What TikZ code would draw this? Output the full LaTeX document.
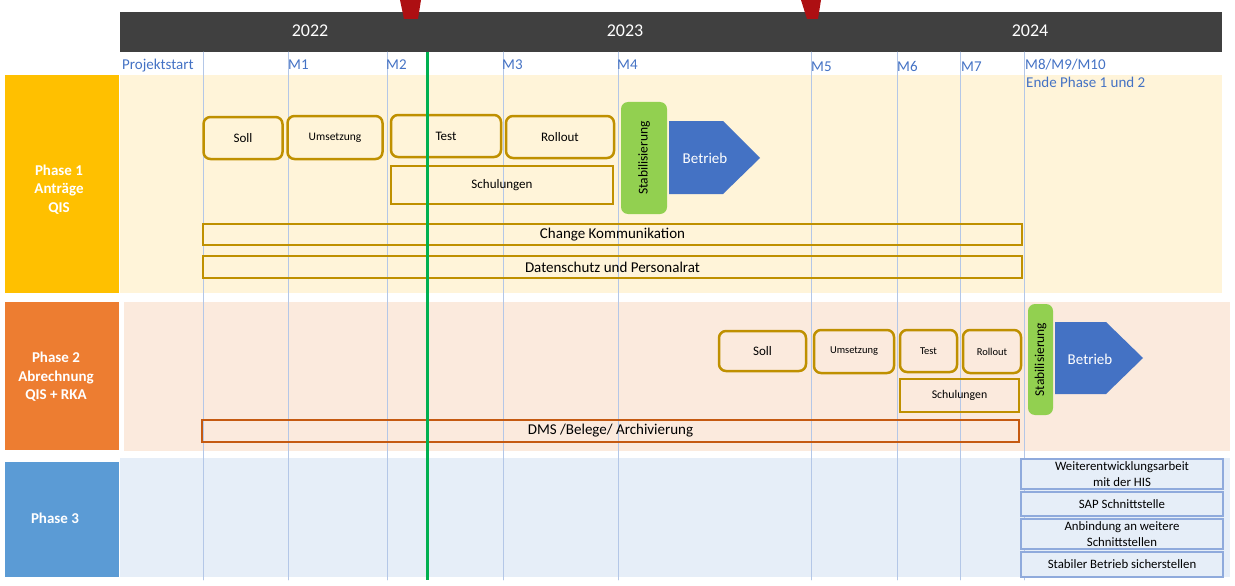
\documentclass[tikz,border=0pt]{standalone}
\usepackage{fontspec}
\setmainfont{Carlito}
\usetikzlibrary{arrows}
\definecolor{uququq}{rgb}{0.25,0.25,0.25}
\definecolor{adqeqe}{rgb}{0.68,0.06,0.07}
\definecolor{ffcqqq}{rgb}{1.,0.753,0.}
\definecolor{edxdtr}{rgb}{0.929,0.49,0.192}
\definecolor{vbzbdv}{rgb}{0.357,0.608,0.835}
\definecolor{uuxscu}{rgb}{0.267,0.447,0.769}
\definecolor{zsdqvq}{rgb}{0.573,0.816,0.314}
\definecolor{bfzqqq}{rgb}{0.749,0.565,0.}
\definecolor{cvvarr}{rgb}{0.773,0.353,0.067}
\definecolor{qqbqvq}{rgb}{0.,0.69,0.314}
\definecolor{fffudz}{rgb}{1.,0.957,0.851}
\definecolor{fbeadd}{rgb}{0.984,0.918,0.867}
\definecolor{eweefy}{rgb}{0.902,0.933,0.973}
\definecolor{yfaadc}{rgb}{0.561,0.667,0.863}
\definecolor{bucwew}{rgb}{0.706,0.78,0.906}
\begin{document}
\begin{tikzpicture}[line cap=round,line join=round,x=1pt,y=-1pt,
    gridline/.style={color=bucwew,line width=0.9pt},
    mslabel/.style={anchor=base west,inner sep=0pt,color=uuxscu,font=\fontsize{15}{18}\selectfont},
    yearlabel/.style={color=white,font=\fontsize{18}{21}\selectfont},
    phasebox/.style={minimum width=114pt,inner sep=0pt},
    phasetext/.style={color=white,align=center,font=\bfseries\fontsize{15}{18.5}\selectfont},
    taskbox/.style={draw=bfzqqq,line width=2.5pt,rounded corners=7pt,inner sep=0pt},
    barbox/.style={draw=bfzqqq,line width=2.5pt,line join=miter,inner sep=0pt},
    stabbox/.style={fill=zsdqvq,rounded corners=7pt,inner sep=0pt,rotate=90,font=\fontsize{13.5}{16}\selectfont},
    betriebtext/.style={color=white,font=\fontsize{15}{18}\selectfont},
    hisbox/.style={draw=yfaadc,fill=eweefy,line width=2.5pt,line join=miter,minimum width=202pt,inner sep=0pt,align=center,font=\fontsize{12.8}{15.5}\selectfont}]
    \useasboundingbox (0,0) rectangle (1235,586);
    \fill[uququq] (120,12) rectangle (1222,52);
    \fill[adqeqe] (400,0) -- (421,0) -- (418,19) -- (404,19) -- cycle;
    \fill[adqeqe] (801,0) -- (821,0) -- (818,19) -- (807,19) -- cycle;
    \node[yearlabel] (y2022) at (310,31) {2022};
    \node[yearlabel] (y2023) at (625,31) {2023};
    \node[yearlabel] (y2024) at (1030,31) {2024};
    \fill[fffudz] (120,75) rectangle (1222,293);
    \fill[fbeadd] (124,302) rectangle (1230,451);
    \fill[eweefy] (120,458) rectangle (1230,577);
    \node[phasebox,fill=ffcqqq,minimum height=218pt] (ph1) at (62,184) {};
    \node[phasebox,fill=edxdtr,minimum height=148pt] (ph2) at (62,376) {};
    \node[phasebox,fill=vbzbdv,minimum height=115pt] (ph3) at (62,519.5) {};
    \node[phasetext] (ph1t) at (59,189.5) {Phase 1\\Anträge\\QIS};
    \node[phasetext] (ph2t) at (56,377) {Phase 2\\Abrechnung\\QIS + RKA};
    \node[phasetext] (ph3t) at (55,518) {Phase 3};
    \foreach \i/\xx in {0/203,1/288,2/387,3/503,4/618,5/811,6/897,7/960,8/1024} {
      \coordinate (g\i) at (\xx,52);
      \draw[gridline] (g\i) -- (\xx,580);
    }
    \node[mslabel] (ms0) at (122,70) {Projektstart};
    \node[mslabel] (ms1) at (288,70) {M1};
    \node[mslabel] (ms2) at (386,70) {M2};
    \node[mslabel] (ms3) at (502,70) {M3};
    \node[mslabel] (ms4) at (617,70) {M4};
    \node[mslabel] (ms5) at (811,72) {M5};
    \node[mslabel] (ms6) at (897,72) {M6};
    \node[mslabel] (ms7) at (961,72) {M7};
    \node[mslabel] (ms8) at (1025,70) {M8/M9/M10};
    \node[mslabel] (ende) at (1026,88) {Ende Phase 1 und 2};
    \node[taskbox,minimum width=79pt,minimum height=42pt,font=\fontsize{13}{15}\selectfont] (soll1) at (243,138) {Soll};
    \node[taskbox,minimum width=95pt,minimum height=43pt,font=\fontsize{11.5}{14}\selectfont] (ums1) at (335,137.5) {Umsetzung};
    \node[taskbox,minimum width=110pt,minimum height=42pt,font=\fontsize{13}{15}\selectfont] (test1) at (446,136) {Test};
    \node[taskbox,minimum width=108pt,minimum height=42pt,font=\fontsize{13}{15}\selectfont] (roll1) at (560,137) {Rollout};
    \node[barbox,minimum width=222pt,minimum height=38pt,font=\fontsize{13}{15}\selectfont] (schul1) at (502,185) {Schulungen};
    \node[stabbox,minimum width=112pt,minimum height=46pt] (stab1) at (644,158) {Stabilisierung};
    \fill[uuxscu] (669,121) -- (723,121) -- (760,158) -- (723,194) -- (669,194) -- cycle;
    \node[betriebtext] (betrieb1) at (705,158) {Betrieb};
    \node[barbox,minimum width=819pt,minimum height=21pt,font=\fontsize{15}{18}\selectfont] (change) at (612.5,234.5) {Change Kommunikation};
    \node[barbox,minimum width=819pt,minimum height=22pt,font=\fontsize{15}{18}\selectfont] (daten) at (612.5,267) {Datenschutz und Personalrat};
    \node[taskbox,minimum width=87pt,minimum height=40pt,font=\fontsize{13}{15}\selectfont] (soll2) at (762.5,351) {Soll};
    \node[taskbox,minimum width=80pt,minimum height=43pt,font=\fontsize{10.5}{13}\selectfont] (ums2) at (854,351.5) {Umsetzung};
    \node[taskbox,minimum width=57pt,minimum height=42pt,font=\fontsize{10.5}{13}\selectfont] (test2) at (928.5,351) {Test};
    \node[taskbox,minimum width=58pt,minimum height=43pt,font=\fontsize{10.5}{13}\selectfont] (roll2) at (992,351.5) {Rollout};
    \node[barbox,minimum width=119pt,minimum height=33pt,font=\fontsize{11.8}{14}\selectfont] (schul2) at (959.5,395.5) {Schulungen};
    \node[stabbox,minimum width=111pt,minimum height=25pt] (stab2) at (1040.5,359.5) {Stabilisierung};
    \fill[uuxscu] (1055,322) -- (1106,322) -- (1143,358) -- (1106,394) -- (1055,394) -- cycle;
    \node[betriebtext] (betrieb2) at (1090,359) {Betrieb};
    \node[barbox,draw=cvvarr,minimum width=817pt,minimum height=22pt,font=\fontsize{15}{18}\selectfont] (dms) at (610.5,431) {DMS /Belege/ Archivierung};
    \node[hisbox,minimum height=30pt] (his) at (1122,474) {Weiterentwicklungsarbeit\\mit der HIS};
    \node[hisbox,minimum height=24pt] (sap) at (1122,504) {SAP Schnittstelle};
    \node[hisbox,minimum height=30pt] (anb) at (1122,534) {Anbindung an weitere\\Schnittstellen};
    \node[hisbox,minimum height=25pt] (stabil) at (1122,564.5) {Stabiler Betrieb sicherstellen};
    \coordinate (heute) at (427,52);
    \draw[qqbqvq,line width=3pt,line cap=butt] (heute) -- (427,580);
\end{tikzpicture}
\end{document}
